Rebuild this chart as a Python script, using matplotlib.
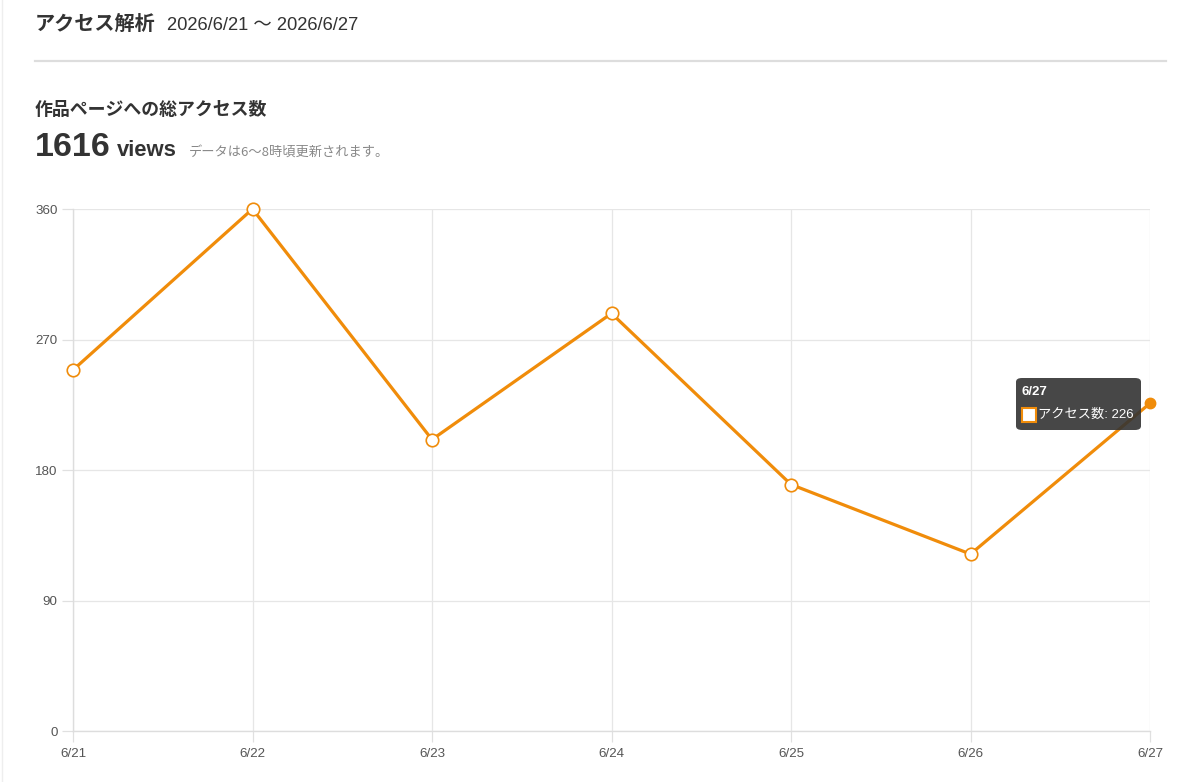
import matplotlib
matplotlib.use("Agg")
import matplotlib.pyplot as plt
from matplotlib.patches import FancyBboxPatch, Rectangle

plt.rcParams['font.family'] = ['Noto Sans CJK JP', 'DejaVu Sans']

dates = ["6/21", "6/22", "6/23", "6/24", "6/25", "6/26", "6/27"]
views = [249, 360, 201, 288, 170, 122, 226]
yticks = [0, 90, 180, 270, 360]

ORANGE = "#F08C0A"
LAT = ['Liberation Sans', 'Noto Sans CJK JP', 'DejaVu Sans']
W, H = 1200, 782
fig = plt.figure(figsize=(W / 100, H / 100), dpi=100)

def fx(px):
    return px / W

def fy(py):
    return 1 - py / H

ax = fig.add_axes([fx(73), fy(731), fx(1150) - fx(73), fy(209) - fy(731)])
x = list(range(len(dates)))
ax.plot(x, views, color=ORANGE, lw=2.3, zorder=3, solid_joinstyle='miter')
ax.plot(x[:-1], views[:-1], 'o', ms=9, mfc='white', mec=ORANGE, mew=1.2, zorder=4, clip_on=False)
ax.plot(x[-1:], views[-1:], 'o', ms=7.5, mfc=ORANGE, mec=ORANGE, zorder=4, clip_on=False)

ax.set_xlim(0, len(dates) - 1)
ax.set_ylim(0, 360)
ax.set_xticks(x)
ax.set_xticklabels(dates, family=LAT, fontsize=9.6, color='#555555')
ax.set_yticks(yticks)
ax.set_yticklabels([str(v) for v in yticks], family=LAT, fontsize=9.6, color='#555555')
ax.grid(True, color='#e6e6e6', lw=0.9)
ax.tick_params(axis='both', length=8, color='#e0e0e0', width=0.9)
ax.tick_params(axis='x', pad=4)
ax.tick_params(axis='y', pad=3)
for s in ['top', 'right']:
    ax.spines[s].set_visible(False)
for s in ['left', 'bottom']:
    ax.spines[s].set_color('#dddddd')
    ax.spines[s].set_linewidth(1.0)
ax.set_axisbelow(True)

# Tooltip
tx0, ty0, tx1, ty1 = 1016, 378, 1141, 430
box = FancyBboxPatch((fx(tx0), fy(ty1)), fx(tx1) - fx(tx0), fy(ty0) - fy(ty1),
                     boxstyle="round,pad=0,rounding_size=0.005", transform=fig.transFigure,
                     facecolor='#333333', alpha=0.9, edgecolor='none', zorder=10)
fig.patches.append(box)
fig.text(fx(1022), fy(392), "6/27", family=LAT, fontsize=9.5,
         fontweight='bold', color='white', va='center', ha='left', zorder=11)
sq = Rectangle((fx(1022), fy(422)), fx(14), 14 / H, transform=fig.transFigure,
               facecolor='white', edgecolor=ORANGE, lw=1.5, zorder=11)
fig.patches.append(sq)
fig.text(fx(1038), fy(415), "アクセス数: 226", family=LAT, fontsize=9.5, color='white', va='center', ha='left', zorder=11)

# Header
fig.text(fx(35), fy(23), "アクセス解析", fontsize=14.5, fontweight='bold', color='#333333', va='center', ha='left')
fig.text(fx(167), fy(25), "2026/6/21 〜 2026/6/27", family=LAT, fontsize=13.2, color='#333333', va='center', ha='left')
fig.add_artist(plt.Line2D([fx(35), fx(1166)], [fy(61), fy(61)], transform=fig.transFigure,
                          color='#dddddd', lw=1.6))
fig.text(fx(35), fy(110), "作品ページへの総アクセス数", fontsize=12.9, fontweight='bold', color='#333333', va='center', ha='left')
fig.text(fx(35), fy(148), "1616", family=LAT, fontsize=24.5, fontweight='bold',
         color='#333333', va='center', ha='left')
fig.text(fx(117), fy(151), "views", family=LAT, fontsize=15.8, fontweight='bold',
         color='#333333', va='center', ha='left')
fig.text(fx(189), fy(152), "データは6〜8時頃更新されます。", fontsize=9.5, color='#888888', va='center', ha='left')

fig.add_artist(plt.Line2D([fx(2), fx(2)], [0, 1], transform=fig.transFigure, color='#eeeeee', lw=1))

fig.savefig("out.png", dpi=100)
